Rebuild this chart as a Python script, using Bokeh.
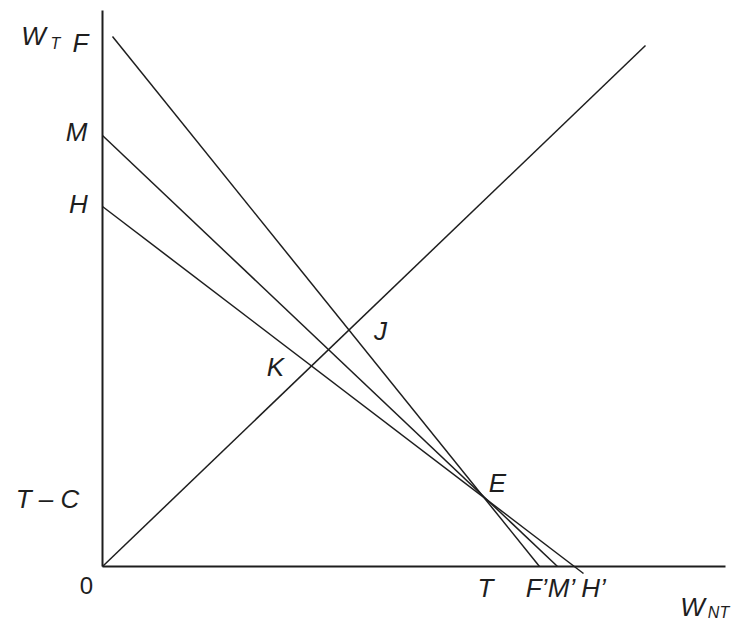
from bokeh.plotting import figure
from bokeh.models import Range1d, ColumnDataSource
from bokeh.core.properties import value
from bokeh.embed import file_html
from bokeh.resources import INLINE

# Axes (data units)
axis_x_end = 623
axis_y_end = 556

# Budget lines: start point and end point
line_names = ["F", "M", "H"]
line_x0 = [10, 0, 0]
line_y0 = [530, 431, 360]
line_x1 = [437, 455, 481]
line_y1 = [0, 0, -7]

# 45-degree-like ray from origin
ray_x = [0, 543]
ray_y = [0, 521]

# Labels (italic, main size)
lab_text = ["W", "F", "M", "H", "T \u2013 C", "K", "J", "E", "T", "F\u2019", "M\u2019", "H\u2019", "W"]
lab_x = [-69, -22, -26, -24, -55, 173, 278, 395, 383, 434, 459, 491, 590]
lab_y = [531, 524, 435, 363, 68, 200, 236, 84, -21, -21, -21, -21, -40]

# Origin label (upright)
origin_text = ["0"]
origin_x = [-16]
origin_y = [-19]

# Subscripts
sub_text = ["T", "NT"]
sub_x = [-47, 616]
sub_y = [523, -46]

p = figure(width=736, height=620, output_backend="svg", toolbar_location=None,
           x_range=Range1d(-102, 634), y_range=Range1d(-54, 566),
           min_border=0)
p.axis.visible = False
p.grid.visible = False
p.outline_line_color = None
p.background_fill_color = "white"
p.border_fill_color = "white"

ink = "#1e1e1e"
# axes
p.line([0, 0], [0, axis_y_end], line_color=ink, line_width=2)
p.line([0, axis_x_end], [0, 0], line_color=ink, line_width=2)

# lines
src = ColumnDataSource(dict(x0=line_x0, y0=line_y0, x1=line_x1, y1=line_y1))
p.segment("x0", "y0", "x1", "y1", source=src, line_color=ink, line_width=1.5)
p.line(ray_x, ray_y, line_color=ink, line_width=1.5)

lsrc = ColumnDataSource(dict(x=lab_x, y=lab_y, t=lab_text))
p.text("x", "y", text="t", source=lsrc, text_font=value("Liberation Sans"),
       text_font_style="italic", text_font_size="26px", text_color=ink,
       text_align="center", text_baseline="middle")
osrc = ColumnDataSource(dict(x=origin_x, y=origin_y, t=origin_text))
p.text("x", "y", text="t", source=osrc, text_font=value("Liberation Sans"),
       text_font_size="24px", text_color=ink,
       text_align="center", text_baseline="middle")
ssrc = ColumnDataSource(dict(x=sub_x, y=sub_y, t=sub_text))
p.text("x", "y", text="t", source=ssrc, text_font=value("Liberation Sans"),
       text_font_style="italic", text_font_size="16px", text_color=ink,
       text_align="center", text_baseline="middle")

open("out.html", "w").write(file_html(p, INLINE))
